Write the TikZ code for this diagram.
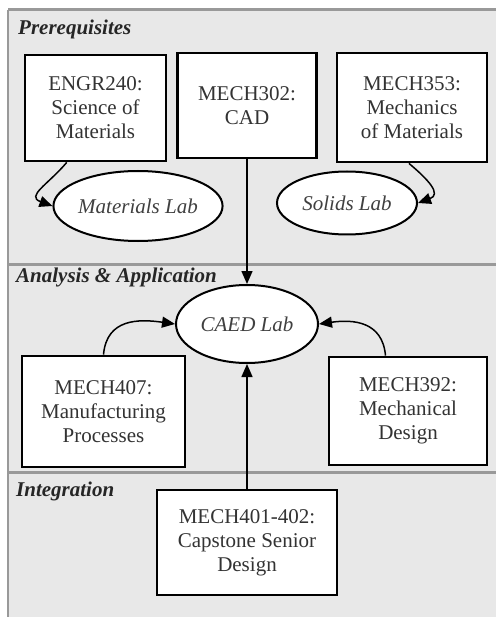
\documentclass[tikz,border=0pt]{standalone}
\usepackage{fontspec}
\setmainfont{Liberation Serif}
\usetikzlibrary{shapes.geometric,arrows.meta,calc}
\begin{document}
\begin{tikzpicture}[x=1pt,y=1pt,
  box/.style={draw=black, line width=2.8pt, fill=white, align=center, inner sep=0pt, font=\fontsize{21}{24}\selectfont, text=black!80},
  lab/.style={ellipse, draw=black, line width=2pt, fill=white, inner sep=0pt, font=\fontsize{21}{24}\selectfont\itshape, text=black!75},
  sect/.style={anchor=base west, font=\fontsize{21}{24}\selectfont\bfseries\itshape, text=black!85, inner sep=0pt},
  arr/.style={-{Triangle[length=13pt,width=11pt]}, line width=1.5pt},
  divider/.style={draw=black!40, line width=3pt}
]
\fill[white] (0,0) rectangle (496,-617);
\useasboundingbox (0,0) rectangle (496,-617);
% panel
\fill[black!9] (8,-10) rectangle (496,-617);
\draw[divider] (8,-10) -- (496,-10);
\draw[draw=black!40, line width=2pt] (8,-10) -- (8,-617);
\draw[divider] (8,-264) -- (496,-264);
\draw[divider] (8,-472) -- (496,-472);
% section labels
\node[sect] (pre) at (18,-35) {Prerequisites};
\node[sect] (ana) at (16,-282) {Analysis \& Application};
\node[sect] (int) at (16,-496) {Integration};
% boxes
\node[box, minimum width=141pt, minimum height=106pt] (engr) at (95.5,-108) {ENGR240:\\Science of\\Materials};
\node[box, minimum width=139pt, minimum height=105pt] (m302) at (247,-105.5) {MECH302:\\CAD};
\node[box, minimum width=150pt, minimum height=109pt] (m353) at (412,-107.5) {MECH353:\\Mechanics\\of Materials};
\node[box, minimum width=163pt, minimum height=111pt] (m407) at (103.5,-411.5) {MECH407:\\Manufacturing\\Processes};
\node[box, minimum width=158pt, minimum height=108pt] (m392) at (408,-411) {MECH392:\\Mechanical\\Design};
\node[box, minimum width=180pt, minimum height=105pt] (cap) at (247,-542.5) {MECH401-402:\\Capstone Senior\\Design};
% labs
\node[lab, minimum width=148pt, minimum height=70pt] (mat) at (138,-206) {Materials Lab};
\node[lab, minimum width=140pt, minimum height=63pt] (sol) at (347,-203) {Solids Lab};
\node[lab, minimum width=142pt, minimum height=78pt] (caed) at (247,-324) {CAED Lab};
% connectors
\draw[arr] ($(engr.south west)!0.3!(engr.south east)$) to[out=-130,in=160,looseness=1.6] (mat.west);
\draw[arr] ($(m353.south west)!0.48!(m353.south east)$) to[out=-40,in=20,looseness=1.6] (sol.east);
\draw[arr] (m302.south) -- (caed.north);
\draw[arr] (cap.north) -- (caed.south);
\draw[arr] (m407.north) to[out=85,in=172,looseness=1.2] (caed.west);
\draw[arr] ($(m392.north west)!0.36!(m392.north east)$) to[out=95,in=8,looseness=1.2] (caed.east);
\end{tikzpicture}
\end{document}
